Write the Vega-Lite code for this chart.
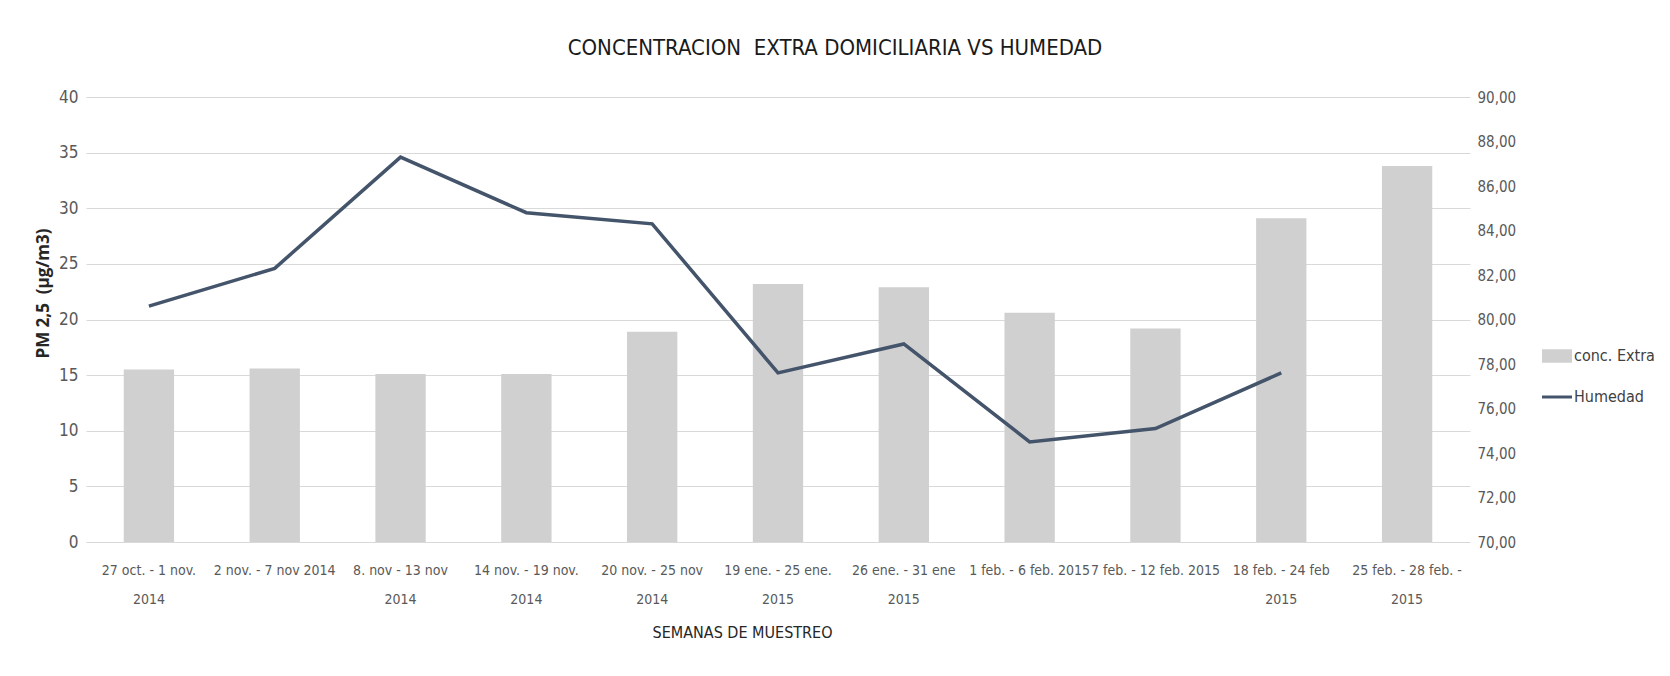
{
  "$schema": "https://vega.github.io/schema/vega-lite/v6.json",
  "autosize": "none",
  "width": 1384,
  "height": 445,
  "padding": {"left": 86, "top": 97, "right": 200, "bottom": 134},
  "background": "white",
  "title": {
    "text": "CONCENTRACION\u00a0 EXTRA DOMICILIARIA VS HUMEDAD",
    "font": "Liberation Sans Narrow, DejaVu Sans Condensed, sans-serif",
    "fontSize": 22,
    "fontWeight": "normal",
    "color": "#1a1a1a",
    "anchor": "middle",
    "frame": "group",
    "dx": 57,
    "offset": 28
  },
  "data": {
    "values": [
      {"cat": "27 oct. - 1 nov.|2014", "pm": 15.5, "hum": 80.6},
      {"cat": "2 nov. - 7 nov 2014", "pm": 15.6, "hum": 82.3},
      {"cat": "8. nov - 13 nov|2014", "pm": 15.1, "hum": 87.3},
      {"cat": "14 nov. - 19 nov.|2014", "pm": 15.1, "hum": 84.8},
      {"cat": "20 nov. - 25 nov|2014", "pm": 18.9, "hum": 84.3},
      {"cat": "19 ene. - 25 ene.|2015", "pm": 23.2, "hum": 77.6},
      {"cat": "26 ene. - 31 ene|2015", "pm": 22.9, "hum": 78.9},
      {"cat": "1 feb. - 6 feb. 2015", "pm": 20.6, "hum": 74.5},
      {"cat": "7 feb. - 12 feb. 2015", "pm": 19.2, "hum": 75.1},
      {"cat": "18 feb. - 24 feb|2015", "pm": 29.1, "hum": 77.6},
      {"cat": "25 feb. - 28 feb. -|2015", "pm": 33.8, "hum": null}
    ]
  },
  "encoding": {
    "x": {
      "field": "cat",
      "type": "nominal",
      "sort": null,
      "scale": {"paddingInner": 0.6, "paddingOuter": 0.3},
      "axis": {
        "title": "SEMANAS DE MUESTREO",
        "titleFont": "Liberation Sans Narrow, DejaVu Sans Condensed, sans-serif",
        "titleFontSize": 16,
        "titleFontWeight": "normal",
        "titleColor": "#262626",
        "titleX": 656,
        "titleY": 90,
        "titleBaseline": "middle",
        "labelExpr": "split(datum.label, '|')",
        "labelAngle": 0,
        "labelFont": "Liberation Sans Narrow, DejaVu Sans Condensed, sans-serif",
        "labelFontSize": 14,
        "labelColor": "#595959",
        "labelLineHeight": 29,
        "labelPadding": 21,
        "labelOverlap": false,
        "labelLimit": 200,
        "ticks": false,
        "tickSize": 0,
        "domain": false,
        "grid": false
      }
    }
  },
  "layer": [
    {
      "mark": {"type": "bar", "color": "#d0d0d0"},
      "encoding": {
        "y": {
          "field": "pm",
          "type": "quantitative",
          "scale": {"domain": [0, 40]},
          "axis": {
            "title": "PM 2,5\u00a0 (µg/m3)",
            "titleFont": "Open Sans",
            "titleFontSize": 17,
            "titleFontWeight": "bold",
            "titleColor": "#262626",
            "titleX": -43,
            "titleY": 196,
            "titleAlign": "center",
            "titleBaseline": "middle",
            "titleAngle": -90,
            "values": [0, 5, 10, 15, 20, 25, 30, 35, 40],
            "labelFont": "Liberation Sans Narrow, DejaVu Sans Condensed, sans-serif",
            "labelFontSize": 17,
            "labelColor": "#595959",
            "labelPadding": 8,
            "ticks": false,
            "domain": false,
            "grid": true,
            "gridColor": "#d9d9d9",
            "gridWidth": 1
          }
        },
        "color": {
          "datum": "conc. Extra",
          "scale": {"domain": ["conc. Extra", "Humedad"], "range": ["#d0d0d0", "#44546a"]},
          "legend": {
            "title": null,
            "orient": "none",
            "legendX": 1456,
            "legendY": 244,
            "labelFont": "Liberation Sans Narrow, DejaVu Sans Condensed, sans-serif",
            "labelFontSize": 16,
            "labelColor": "#404040",
            "rowPadding": 18,
            "symbolSize": 900,
            "symbolOffset": 0,
            "labelOffset": 2,
            "encode": {
              "symbols": {
                "update": {
                  "shape": {"signal": "datum.value == 'Humedad' ? 'M-1,-0.1H1V0.1H-1Z' : 'M-1,-0.45H1V0.45H-1Z'"},
                  "fill": {"signal": "datum.value == 'Humedad' ? '#44546a' : '#d0d0d0'"},
                  "stroke": {"value": "transparent"},
                  "strokeWidth": {"value": 0},
                  "opacity": {"value": 1}
                }
              }
            }
          }
        }
      }
    },
    {
      "mark": {"type": "line", "color": "#44546a", "strokeWidth": 3.5},
      "encoding": {
        "y": {
          "field": "hum",
          "type": "quantitative",
          "scale": {"domain": [70, 90], "zero": false},
          "axis": {
            "title": null,
            "orient": "right",
            "values": [70, 72, 74, 76, 78, 80, 82, 84, 86, 88, 90],
            "labelExpr": "replace(format(datum.value, '.2f'), '.', ',')",
            "labelFont": "Liberation Sans Narrow, DejaVu Sans Condensed, sans-serif",
            "labelFontSize": 15,
            "labelColor": "#595959",
            "labelPadding": 7,
            "ticks": false,
            "domain": false,
            "grid": false
          }
        },
        "color": {"datum": "Humedad"}
      }
    }
  ],
  "resolve": {"scale": {"y": "independent"}},
  "config": {"view": {"stroke": null}}
}
